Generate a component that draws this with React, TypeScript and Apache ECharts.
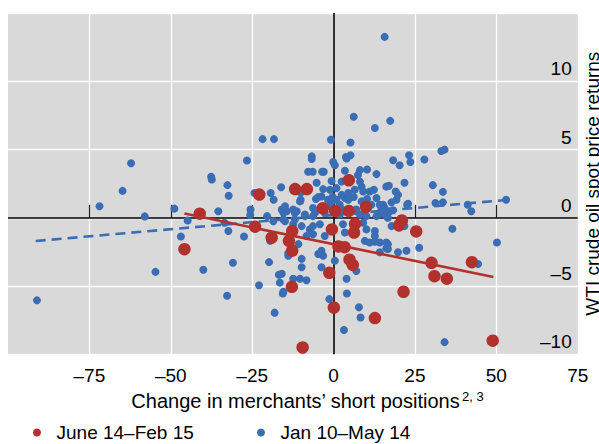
import React, { useEffect, useRef } from 'react';
import * as echarts from 'echarts';

const RED = '#b2312d';
const BLUE = '#3a6db4';
const FONT = '"Liberation Sans", Arial, Helvetica, sans-serif';

const seriesNames = ['June 14\u2013Feb 15', 'Jan 10\u2013May 14'];
const xTicks = [-75, -50, -25, 0, 25, 50, 75];
const xTickMarks = [-75, -50, -25, 0, 25, 50];
const yTicks = [-10, -5, 0, 5, 10];
const xTitle = 'Change in merchants\u2019 short positions';
const xTitleSup = '2, 3';
const yTitle = 'WTI crude oil spot price returns';

// June 14 – Feb 15 (red)
const redPoints: [number, number][] = [
  [-41.1, 0.3], [-45.8, -2.3], [-22.8, 1.7], [-11.8, 2.1], [-8.2, 2.1], [4.7, 2.75],
  [-3.3, 0.7], [0.5, 0.5], [4.7, 0.5], [10.0, 0.8], [-24.1, -0.65], [-19.0, -1.45],
  [-12.7, -0.97], [-13.7, -1.69], [-12.7, -2.41], [-0.5, -0.85], [1.5, -2.1], [3.4, -2.15],
  [4.9, -3.07], [5.9, -3.45], [-1.3, -4.03], [-12.8, -5.06], [0.1, -6.58], [6.6, -0.45],
  [6.3, -1.08], [12.7, -7.35], [21.0, -0.2], [20.1, -0.56], [25.4, -1.0], [30.1, -3.3],
  [42.5, -3.25], [31.0, -4.28], [34.8, -4.46], [21.5, -5.42], [48.9, -9.0], [-9.5, -9.5],
];

// Jan 10 – May 14 (blue)
const bluePoints: [number, number][] = [
  [-91.1, -6.05], [-71.9, 0.84], [-64.8, 1.97], [-62.2, 4.0], [-58.0, 0.1], [-54.7, -3.96],
  [-48.9, 0.67], [-46.9, -1.37], [-44.8, -0.2], [-40.0, -3.81], [-37.6, 3.0], [-37.4, 2.8],
  [-35.4, 0.48], [-33.5, -0.36], [-32.6, 2.39], [-32.2, 1.61], [-32.3, -0.97], [-32.7, -5.71],
  [-30.9, -3.3], [-27.5, -1.37], [-26.6, 4.2], [-25.5, 0.6], [-25.6, 0.2], [-24.3, 1.81],
  [-22.9, -4.94], [-21.8, 5.76], [-20.4, 0.12], [-19.3, 1.81], [-18.4, 1.32], [-18.3, 5.76],
  [-18.5, -0.25], [-19.8, -3.25], [-19.5, -1.69], [-18.1, -6.95], [-16.1, 2.24], [-16.8, -4.17],
  [-16.5, -4.75], [-15.6, -5.55], [-15.9, 0.6], [-15.4, -0.12], [-15.4, 0.36], [-15.4, -5.42],
  [-15.9, -4.1], [-14.9, 0.84], [-14.4, 0.48], [-14.9, -0.25], [-13.9, -2.6], [-13.9, -2.78],
  [-12.4, 0.6], [-12.4, -0.48], [-12.4, -4.46], [-11.9, 0.36], [-11.9, -0.12], [-11.3, 0.48],
  [-10.8, -1.93], [-10.3, 1.2], [-10.3, -4.46], [-10.1, 1.85], [-10.1, 1.32], [-9.8, -0.61],
  [-9.8, -3.01], [-9.8, -3.62], [-8.8, 0.24], [-8.8, 0.12], [-8.3, -1.33], [-8.3, -4.58],
  [-7.8, 3.37], [-7.3, -0.85], [-6.7, 4.5], [-6.7, 4.3], [-6.4, 3.37], [-6.3, 0.72],
  [-6.3, 0.12], [-6.3, -0.61], [-6.3, -1.21], [-5.7, 0.36], [-5.4, 1.37], [-5.2, 2.57],
  [-4.7, 1.52], [-4.7, -2.65], [-4.2, -0.48], [-3.7, 1.56], [-3.7, -2.41], [-3.7, -3.62],
  [-3.5, 3.37], [-3.0, 3.37], [-3.2, 2.1], [-3.2, -2.78], [-2.7, 0.36], [-2.7, -1.33],
  [-1.7, 1.32], [-1.3, -5.96], [-1.1, 2.05], [-1.1, 0.84], [-0.8, 5.71], [-0.6, 2.7],
  [-0.6, 1.2], [-0.3, 1.52], [-0.1, 4.09], [0.4, 3.85], [0.4, -3.14], [0.9, 2.17],
  [0.9, 1.32], [1.9, 0.96], [1.9, 0.24], [2.5, 2.65], [2.5, 1.68], [2.5, 0.6],
  [2.9, -0.48], [3.2, -8.22], [3.5, 3.44], [3.5, 1.45], [3.5, -1.08], [3.8, 4.45],
  [4.0, 4.34], [4.0, -4.46], [4.1, -5.55], [4.5, 1.81], [4.5, 1.32], [5.2, 5.52],
  [5.2, 4.58], [6.2, 7.4], [6.2, 1.52], [6.5, 2.05], [7.0, 0.6], [7.0, 0.48],
  [7.0, -3.9], [7.5, 3.13], [7.8, -6.56], [8.1, 3.49], [8.1, 2.65], [8.1, 0.24],
  [8.3, -7.3], [8.6, 2.28], [8.6, 1.2], [9.1, 1.92], [9.1, -0.36], [9.6, -1.69],
  [10.1, 0.12], [10.1, -0.85], [10.3, 3.54], [10.3, 1.37], [11.1, 1.92], [11.1, -1.81],
  [11.6, 0.96], [12.4, 2.05], [12.7, 6.58], [12.7, -0.97], [12.7, -1.33], [12.7, -1.76],
  [13.2, 3.2], [13.2, 1.45], [13.2, 0.12], [14.2, 0.96], [14.2, -1.81], [14.2, -2.53],
  [14.7, 0.31], [14.7, 0.6], [15.2, 0.36], [15.2, 0.96], [15.7, 0.72], [15.7, 13.25],
  [16.2, 2.28], [16.2, 0.12], [16.2, -1.81], [16.2, -2.24], [16.7, 0.0], [16.7, -1.93],
  [16.7, -2.29], [17.0, 2.34], [17.3, 0.48], [17.4, 7.1], [17.8, 1.13], [17.8, -0.61],
  [18.3, 4.22], [18.3, 0.55], [19.1, 1.92], [19.3, 1.32], [19.8, 1.68], [19.8, -2.53],
  [20.3, 3.85], [21.8, 2.57], [21.8, -0.61], [22.4, -2.41], [22.6, 0.96], [22.9, 1.03],
  [23.2, 4.58], [23.6, 4.09], [26.3, -2.2], [27.9, 4.27], [30.5, 2.39], [31.3, 1.08],
  [33.1, 4.89], [33.6, 1.9], [33.6, 1.13], [34.1, 4.99], [34.1, -9.11], [36.5, -0.8],
  [41.2, 0.96], [42.3, 0.48], [44.4, -3.38], [50.2, -1.81], [53.0, 1.32],
];

// Fitted lines (end points)
const redFit: [number, number][] = [[-45.8, 0.31], [49.1, -4.34]];
const blueFit: [number, number][] = [[-91.5, -1.7], [53.0, 1.3]];

const fmt = (v: number) => (v < 0 ? '\u2013' + Math.abs(v) : String(v));

export default function App() {
  const ref = useRef<HTMLDivElement>(null);
  useEffect(() => {
    if (!ref.current) return;
    const chart = echarts.init(ref.current, undefined, { renderer: 'svg' });
    const legendBase = {
      icon: 'circle', padding: 0, top: 423, itemWidth: 29, itemHeight: 8,
      textStyle: { fontSize: 19, color: '#000', fontFamily: FONT },
    };
    chart.setOption({
      animation: false,
      textStyle: { fontFamily: FONT, color: '#000' },
      grid: {
        left: 8, top: 13, width: 569.7, height: 341.3,
        show: true, backgroundColor: '#d9d9d9', borderWidth: 0,
        containLabel: false, outerBoundsMode: 'none',
      },
      legend: [
        { ...legendBase, data: [seriesNames[0]], left: 33 },
        { ...legendBase, data: [seriesNames[1]], left: 257 },
      ],
      xAxis: {
        type: 'value', min: -100, max: 75, interval: 25,
        axisLine: { show: false },
        axisTick: {
          show: true, inside: true, length: 13, customValues: xTickMarks,
          lineStyle: { color: '#222', width: 1.2 },
        },
        axisLabel: {
          customValues: xTicks, formatter: fmt, fontSize: 19, color: '#000',
          margin: 12, fontFamily: FONT,
        },
        splitLine: { show: true, lineStyle: { color: '#ffffff', width: 1.3 } },
        name: '{t|' + xTitle + '}{s|' + xTitleSup + '}',
        nameLocation: 'middle', nameGap: 35,
        nameTextStyle: {
          padding: [0, 0, 0, 29],
          rich: {
            t: { fontSize: 20, fontFamily: FONT, color: '#000', lineHeight: 22 },
            s: { fontSize: 13, fontFamily: FONT, color: '#000', verticalAlign: 'top', padding: [0, 0, 0, 2] },
          },
        },
      },
      yAxis: {
        type: 'value', position: 'right', min: -10, max: 15, interval: 5,
        axisLine: { show: false },
        axisTick: { show: false },
        axisLabel: {
          inside: true, customValues: yTicks, formatter: fmt, fontSize: 19,
          color: '#000', verticalAlign: 'bottom', padding: [0, 0, 3, 0], margin: 6,
          fontFamily: FONT,
        },
        splitLine: { show: true, lineStyle: { color: '#ffffff', width: 1.3 } },
        name: yTitle, nameLocation: 'middle', nameRotate: 90, nameGap: 2,
        nameTextStyle: { fontSize: 19, lineHeight: 19, fontFamily: FONT, color: '#000' },
      },
      series: [
        {
          type: 'line', data: [], z: 1, silent: true,
          markLine: {
            silent: true, z: 1, symbol: 'none', label: { show: false },
            lineStyle: { color: '#000', width: 1.6, type: 'solid' },
            data: [{ xAxis: 0 }, { yAxis: 0 }],
          },
        },
        {
          name: seriesNames[1], type: 'scatter', data: bluePoints, symbolSize: 8,
          itemStyle: { color: BLUE, opacity: 1 }, z: 2,
        },
        {
          type: 'line', data: blueFit, symbol: 'none', z: 3, silent: true,
          lineStyle: { color: BLUE, width: 2.6, type: [10, 6] },
        },
        {
          type: 'line', data: redFit, symbol: 'none', z: 4, silent: true,
          lineStyle: { color: RED, width: 2.6, type: 'solid' },
        },
        {
          name: seriesNames[0], type: 'scatter', data: redPoints, symbolSize: 12.5,
          itemStyle: { color: RED, opacity: 1 }, z: 5,
        },
      ],
    });
    return () => chart.dispose();
  }, []);
  return (
    <div
      ref={ref}
      style={{ position: 'fixed', left: 0, top: 0, width: 599, height: 444, background: '#fff' }}
    />
  );
}
